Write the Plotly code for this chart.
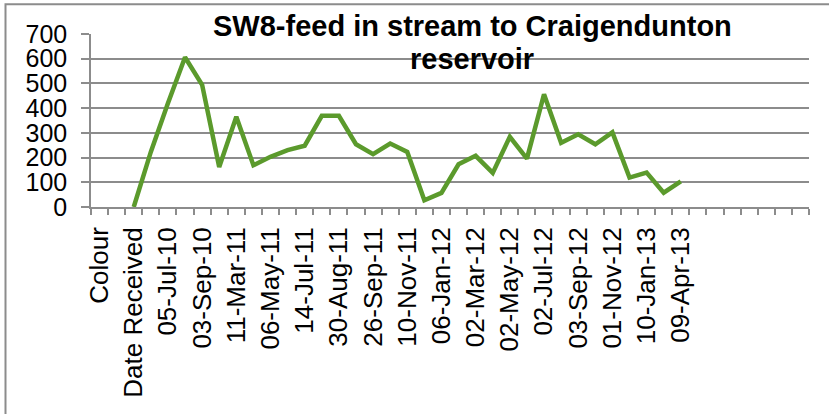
import plotly.graph_objects as go

# category slots on the x axis (Excel shows every 2nd label)
n_slots = 42
tick_labels = ["Colour", "Date Received", "05-Jul-10", "03-Sep-10", "11-Mar-11",
               "06-May-11", "14-Jul-11", "30-Aug-11", "26-Sep-11", "10-Nov-11",
               "06-Jan-12", "02-Mar-12", "02-May-12", "02-Jul-12", "03-Sep-12",
               "01-Nov-12", "10-Jan-13", "09-Apr-13"]
first_slot = 2  # series starts at "Date Received"
values = [0, 223, 420, 606, 494, 162, 365, 169, 203, 230, 248, 369, 369, 254,
          214, 257, 223, 27, 57, 173, 207, 138, 284, 196, 456, 260, 294, 254,
          302, 119, 139, 58, 104]

slots = list(range(first_slot, first_slot + len(values)))
label_slots = list(range(0, 2 * len(tick_labels), 2))
boundaries = [i - 0.5 for i in range(n_slots + 1)]

GRID = "#8c8c8c"
FONT = "Arial, Liberation Sans, sans-serif"

fig = go.Figure()
fig.add_trace(go.Scatter(
    x=slots, y=values, mode="lines",
    line=dict(color="#5b9a2c", width=4.5),
    xaxis="x2", showlegend=False,
))
# invisible trace to keep x axis active
fig.add_trace(go.Scatter(x=[0], y=[None], xaxis="x", showlegend=False))

fig.update_layout(
    width=829, height=414,
    margin=dict(l=91, r=20, t=34, b=207, autoexpand=False),
    paper_bgcolor="white", plot_bgcolor="white",
    font=dict(family=FONT, size=25, color="black"),
    xaxis=dict(
        range=[-0.5, n_slots - 0.5], tickvals=boundaries,
        ticktext=[""] * len(boundaries), automargin=False,
        ticks="outside", ticklen=6, tickcolor=GRID, tickwidth=1.5,
        showgrid=False, zeroline=False,
        showline=True, linecolor=GRID, linewidth=1.5,
    ),
    xaxis2=dict(
        overlaying="x", matches="x", anchor="y", side="bottom",
        tickvals=label_slots, ticktext=tick_labels, tickangle=-90,
        tickfont=dict(size=26), automargin=False,
        ticks="", showgrid=False, zeroline=False, showline=False,
        ticklabelstandoff=14,
    ),
    yaxis=dict(
        range=[0, 700], dtick=100, automargin=False,
        ticks="outside", ticklen=8, tickcolor=GRID, tickwidth=1.5,
        showgrid=True, gridcolor=GRID, gridwidth=1.5,
        zeroline=False, showline=True, linecolor=GRID, linewidth=1.5,
        ticklabelstandoff=9,
    ),
    shapes=[dict(
        type="rect", xref="paper", yref="paper",
        x0=(5.5 - 91) / 718, x1=(840 - 91) / 718,
        y0=(207 - 430) / 172.4, y1=(207 - 5) / 172.4,
        line=dict(color=GRID, width=2), fillcolor="rgba(0,0,0,0)", layer="below",
    )],
    annotations=[
        dict(text="<b>SW8-feed in stream to Craigendunton</b>", xref="paper", yref="paper",
             x=(472 - 91) / 718, y=(207 - 27) / 172.4, showarrow=False,
             xanchor="center", yanchor="middle", font=dict(size=29)),
        dict(text="<b>reservoir</b>", xref="paper", yref="paper",
             x=(472 - 91) / 718, y=(207 - 60) / 172.4, showarrow=False,
             xanchor="center", yanchor="middle", font=dict(size=29)),
    ],
)

# drop the browser's default body margin so the figure sits at the page corner
fig.write_html("out.html", config={"displayModeBar": False},
               post_script="document.body.style.margin='0';")
